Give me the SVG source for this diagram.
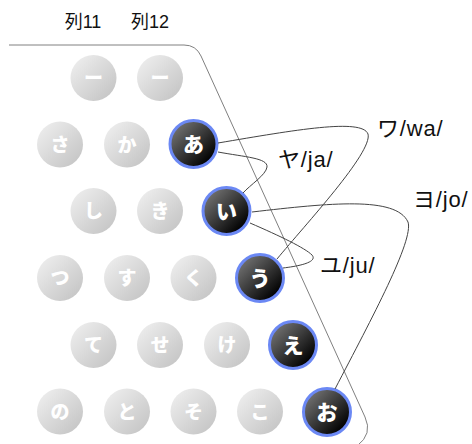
<svg xmlns="http://www.w3.org/2000/svg" width="472" height="444" viewBox="0 0 472 444">
  <defs>
    <linearGradient id="gKey" x1="0.15" y1="0.15" x2="0.85" y2="0.85">
      <stop offset="0" stop-color="#eaeaea"/>
      <stop offset="1" stop-color="#c8c8c8"/>
    </linearGradient>
    <linearGradient id="dKey" x1="0.15" y1="0.15" x2="0.85" y2="0.85">
      <stop offset="0" stop-color="#6e6e6e"/>
      <stop offset="1" stop-color="#000000"/>
    </linearGradient>
  </defs>
  <style>
    .grey circle { fill: url(#gKey); }
    .dark circle { fill: url(#dKey); stroke: #6b88f4; stroke-width: 3; }
    .grey text { fill: #ffffff; font-family: "Noto Sans CJK JP", sans-serif; font-weight: 900; font-size: 19px; text-anchor: middle; }
    .dark text { fill: #ffffff; font-family: "Noto Sans CJK JP", sans-serif; font-weight: 900; font-size: 21px; text-anchor: middle; }
    .lbl { fill: #111111; font-family: "Liberation Sans", "Noto Sans CJK JP", sans-serif; font-size: 22px; letter-spacing: 0.8px; }
    .hdr { fill: #111111; font-family: "Liberation Sans", "Noto Sans CJK JP", sans-serif; font-size: 18px; text-anchor: middle; }
    .edge { fill: none; stroke: #444444; stroke-width: 1; }
    .frame { fill: none; stroke: #808080; stroke-width: 1; }
  </style>

  <!-- column headers -->
  <text class="hdr" x="83" y="28">列11</text>
  <text class="hdr" x="150" y="28">列12</text>

  <!-- keyboard outline -->
  <path class="frame" d="M 9 45 H 184 Q 196 45 201 56 L 365 417 Q 373 434 357 446"/>

  <!-- inactive keys -->
  <g id="k-cho1" class="grey"><circle cx="93.5" cy="78" r="23"/><text x="93.5" y="85">ー</text></g>
  <g id="k-cho2" class="grey"><circle cx="160" cy="78" r="23"/><text x="160" y="85">ー</text></g>
  <g id="k-sa" class="grey"><circle cx="60" cy="144.5" r="23"/><text x="60" y="151.5">さ</text></g>
  <g id="k-ka" class="grey"><circle cx="127" cy="144.5" r="23"/><text x="127" y="151.5">か</text></g>
  <g id="k-shi" class="grey"><circle cx="93.5" cy="211" r="23"/><text x="93.5" y="218">し</text></g>
  <g id="k-ki" class="grey"><circle cx="160" cy="211" r="23"/><text x="160" y="218">き</text></g>
  <g id="k-tsu" class="grey"><circle cx="60" cy="278" r="23"/><text x="60" y="285">つ</text></g>
  <g id="k-su" class="grey"><circle cx="127" cy="278" r="23"/><text x="127" y="285">す</text></g>
  <g id="k-ku" class="grey"><circle cx="193.5" cy="278" r="23"/><text x="193.5" y="285">く</text></g>
  <g id="k-te" class="grey"><circle cx="93.5" cy="345" r="23"/><text x="93.5" y="352">て</text></g>
  <g id="k-se" class="grey"><circle cx="160" cy="345" r="23"/><text x="160" y="352">せ</text></g>
  <g id="k-ke" class="grey"><circle cx="227" cy="345" r="23"/><text x="227" y="352">け</text></g>
  <g id="k-no" class="grey"><circle cx="60" cy="411.5" r="23"/><text x="60" y="418.5">の</text></g>
  <g id="k-to" class="grey"><circle cx="127" cy="411.5" r="23"/><text x="127" y="418.5">と</text></g>
  <g id="k-so" class="grey"><circle cx="193.5" cy="411.5" r="23"/><text x="193.5" y="418.5">そ</text></g>
  <g id="k-ko" class="grey"><circle cx="260" cy="411.5" r="23"/><text x="260" y="418.5">こ</text></g>

  <!-- vowel keys -->
  <g id="k-a" class="dark"><circle cx="193.5" cy="144" r="23.5"/><text x="193.5" y="151.5">あ</text></g>
  <g id="k-i" class="dark"><circle cx="226.5" cy="211" r="23.5"/><text x="226.5" y="218.5">い</text></g>
  <g id="k-u" class="dark"><circle cx="260" cy="278" r="23.5"/><text x="260" y="285.5">う</text></g>
  <g id="k-e" class="dark"><circle cx="293" cy="345" r="23.5"/><text x="293" y="352.5">え</text></g>
  <g id="k-o" class="dark"><circle cx="327" cy="412" r="23.5"/><text x="327" y="419.5">お</text></g>

  <!-- glide strokes -->
  <g id="connectors">
    <path class="edge" d="M 218 143 C 295 130, 362 118, 368 134 C 373 152, 305 225, 277 259"/>
    <path class="edge" d="M 218 152 C 245 157, 268 158, 267 167 C 266 175, 250 185, 243 193"/>
    <path class="edge" d="M 252 212 C 330 203, 396 196, 408 222 C 414 240, 372 318, 335 389"/>
    <path class="edge" d="M 250 223 C 280 236, 305 248, 312 255 C 318 262, 300 266, 283 268"/>
  </g>

  <!-- stroke labels -->
  <text class="lbl" x="377" y="136">ワ/wa/</text>
  <text class="lbl" x="278" y="167">ヤ/ja/</text>
  <text class="lbl" x="413" y="207">ヨ/jo/</text>
  <text class="lbl" x="320" y="273">ユ/ju/</text>
</svg>
